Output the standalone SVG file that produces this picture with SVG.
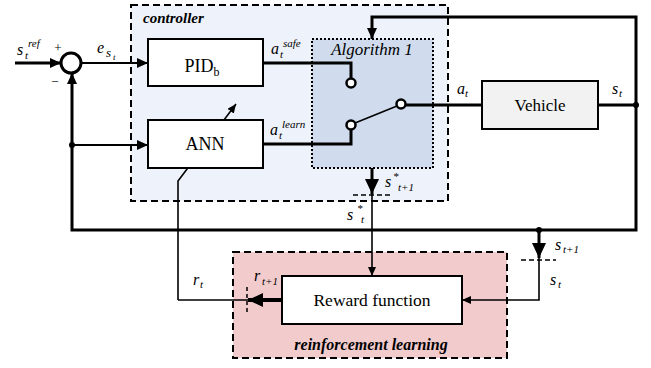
<svg xmlns="http://www.w3.org/2000/svg" width="651" height="368" viewBox="0 0 651 368">
<defs>
<marker id="arr" markerUnits="userSpaceOnUse" markerWidth="12" markerHeight="10" refX="11" refY="5" orient="auto"><path d="M0,0 L11,5 L0,10 z" fill="#000"/></marker>
<marker id="arrS" markerUnits="userSpaceOnUse" markerWidth="9" markerHeight="8" refX="9" refY="4" orient="auto"><path d="M0,0 L9,4 L0,8 z" fill="#000"/></marker>
<marker id="arrB" markerUnits="userSpaceOnUse" markerWidth="16" markerHeight="14" refX="15" refY="7" orient="auto"><path d="M0,0 L15,7 L0,14 z" fill="#000"/></marker>
</defs>
<style>
.thick{fill:none;stroke:#000;stroke-width:3}
.mid{fill:none;stroke:#000;stroke-width:2}
.thin{fill:none;stroke:#000;stroke-width:1.6}
.box{fill:#fff;stroke:#000;stroke-width:2}
.serif{font-family:"Liberation Serif",serif;fill:#000}
.lbl{font-family:"Liberation Serif",serif;font-style:italic;font-size:16px;fill:#000}
.sub{font-family:"Liberation Serif",serif;font-style:italic;font-size:11px;fill:#000}
.name{font-family:"Liberation Serif",serif;font-size:18px;fill:#000;text-anchor:middle}
.title{font-family:"Liberation Serif",serif;font-style:italic;font-weight:bold;font-size:16px;fill:#000}
.dash{stroke:#000;stroke-width:2;stroke-dasharray:7,4}
</style>
<rect width="651" height="368" fill="#fff"/>

<g id="controller">
<rect x="131" y="5" width="317" height="196" class="dash" style="fill:#EEF2FA"/>
<text class="title" x="143" y="23" style="font-size:15px">controller</text>
</g>
<g id="rl">
<rect x="233" y="252" width="274" height="106" class="dash" style="fill:#F2CBCD"/>
<text class="title" x="371" y="350" text-anchor="middle">reinforcement learning</text>
</g>
<g id="algorithm1">
<rect x="312" y="39" width="121" height="129" fill="#D0DCEE" stroke="#000" stroke-width="2" stroke-dasharray="2,2"/>
<text class="serif" x="372" y="55" style="font-style:italic;font-size:17px" text-anchor="middle">Algorithm 1</text>
</g>

<g id="connectors">
<line x1="15" y1="63" x2="61" y2="63" class="thick" marker-end="url(#arr)"/>
<line x1="81" y1="63" x2="148" y2="63" class="mid" marker-end="url(#arr)"/>
<polyline points="636,105 636,230 72,230 72,73" class="thick" marker-end="url(#arr)"/>
<line x1="72" y1="145" x2="148" y2="145" class="mid" marker-end="url(#arr)"/>
<circle cx="72" cy="145" r="3" fill="#000"/>
<polyline points="636,105 636,17 372,17 372,39" class="thick" marker-end="url(#arr)"/>
<polyline points="263,63 351,63 351,79" class="thick"/>
<polyline points="263,144 351,144 351,129" class="thick"/>
<line x1="355" y1="123" x2="397" y2="106" stroke="#000" stroke-width="1.6"/>
<line x1="405" y1="105" x2="482" y2="105" class="thick"/>
<line x1="598" y1="105" x2="636" y2="105" class="thick"/>
<circle cx="636" cy="105" r="3" fill="#000"/>
<polyline points="178,300 178,181 236,104" class="thin" marker-end="url(#arrS)"/>
<line x1="282" y1="300" x2="248" y2="300" stroke="#000" stroke-width="4" marker-end="url(#arrB)"/>
<line x1="248" y1="300" x2="178" y2="300" class="thin"/>
<line x1="247" y1="287" x2="247" y2="313" stroke="#000" stroke-width="1.5" stroke-dasharray="4,3"/>
<line x1="372" y1="168" x2="372" y2="194" class="thick" marker-end="url(#arrB)"/>
<line x1="372" y1="194" x2="372" y2="276" class="thin" marker-end="url(#arrS)"/>
<line x1="353" y1="195" x2="390" y2="195" stroke="#000" stroke-width="1.5" stroke-dasharray="5,3"/>
<line x1="539" y1="230" x2="539" y2="258" class="thick" marker-end="url(#arrB)"/>
<polyline points="539,258 539,300 462,300" class="thin" marker-end="url(#arrS)"/>
<line x1="521" y1="260" x2="556" y2="260" stroke="#000" stroke-width="1.5" stroke-dasharray="5,3"/>
<circle cx="539" cy="230" r="3" fill="#000"/>
</g>

<g id="sum">
<circle cx="71" cy="63" r="10" fill="#fff" stroke="#000" stroke-width="3"/>
<text class="serif" x="58" y="52" style="font-size:13px" text-anchor="middle">+</text>
<text class="serif" x="55" y="86" style="font-size:13px" text-anchor="middle">−</text>
</g>
<g id="pid">
<rect x="148" y="39" width="115" height="47" class="box"/>
<text class="name" x="202" y="72">PID<tspan style="font-size:12px" dy="4">b</tspan></text>
</g>
<g id="ann">
<rect x="148" y="120" width="115" height="48" class="box"/>
<text class="name" x="205" y="150">ANN</text>
</g>
<g id="switch">
<circle cx="351" cy="83" r="4.5" fill="#fff" stroke="#000" stroke-width="2.5"/>
<circle cx="351" cy="125" r="4.5" fill="#fff" stroke="#000" stroke-width="2.5"/>
<circle cx="401" cy="104" r="4.5" fill="#fff" stroke="#000" stroke-width="2.5"/>
</g>
<g id="vehicle">
<rect x="482" y="81" width="116" height="48" fill="#F2F2F2" stroke="#000" stroke-width="2"/>
<text class="name" x="540" y="111" style="font-size:17px">Vehicle</text>
</g>
<g id="reward">
<rect x="282" y="276" width="180" height="48" class="box"/>
<text class="name" x="372" y="306" style="font-size:17.5px">Reward function</text>
</g>

<g id="labels">
<text class="lbl" x="17" y="55">s</text><text class="sub" x="25" y="59">t</text><text class="sub" x="28" y="47">ref</text>
<text class="lbl" x="97" y="53">e</text><text class="sub" x="106" y="57" style="font-size:13px">s</text><text class="sub" x="113" y="60" style="font-size:9px">t</text>
<text class="lbl" x="271" y="54">a</text><text class="sub" x="280" y="58">t</text><text class="sub" x="283" y="47">safe</text>
<text class="lbl" x="270" y="135">a</text><text class="sub" x="279" y="139">t</text><text class="sub" x="282" y="128">learn</text>
<text class="lbl" x="457" y="94">a</text><text class="sub" x="465" y="97">t</text>
<text class="lbl" x="612" y="94">s</text><text class="sub" x="619" y="97">t</text>
<text class="lbl" x="385" y="187">s</text><text class="sub" x="393" y="180">*</text><text class="sub" x="398" y="191">t+1</text>
<text class="lbl" x="347" y="220">s</text><text class="sub" x="357" y="212">*</text><text class="sub" x="361" y="223">t</text>
<text class="lbl" x="193" y="285">r</text><text class="sub" x="200" y="288">t</text>
<text class="lbl" x="254" y="281">r</text><text class="sub" x="262" y="285">t+1</text>
<text class="lbl" x="555" y="250">s</text><text class="sub" x="563" y="253">t+1</text>
<text class="lbl" x="550" y="285">s</text><text class="sub" x="558" y="288">t</text>
</g>
</svg>
